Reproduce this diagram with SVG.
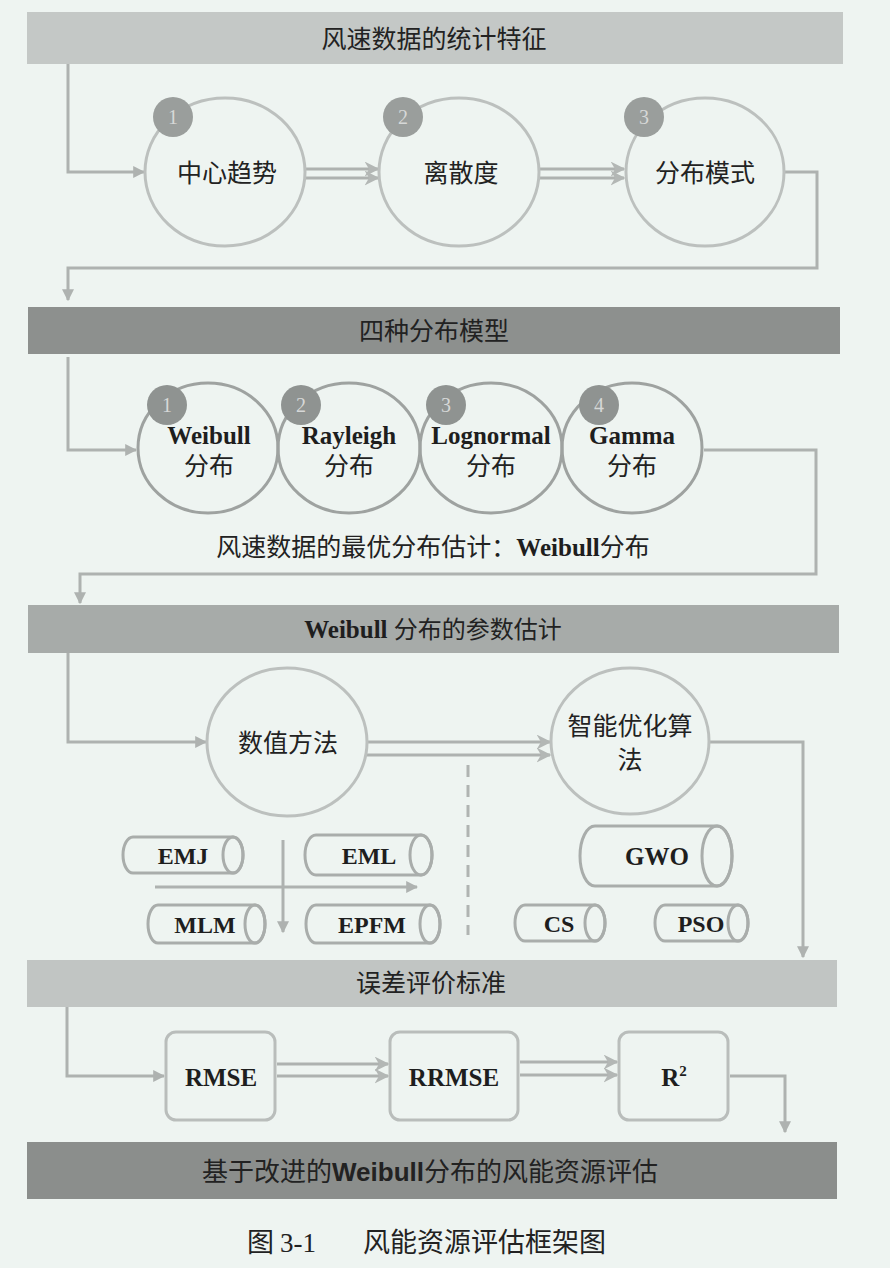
<svg xmlns="http://www.w3.org/2000/svg" width="890" height="1268" viewBox="0 0 890 1268">
<style>
.cn{font-family:"Noto Sans CJK SC","Noto Sans",sans-serif;fill:#222}
.en{font-family:"Liberation Serif",serif;font-weight:bold;fill:#1e1e1e}
.bar{stroke:none}
.ln{fill:none;stroke:#aeb2b0;stroke-width:3}
.c1{fill:none;stroke:#bcc0be;stroke-width:3}
.c2{fill:none;stroke:#9ea2a0;stroke-width:3}
.cy{fill:none;stroke:#a9adab;stroke-width:3}
.bx{fill:none;stroke:#b9bdbb;stroke-width:3}
.bd{fill:#9a9e9c}
.bdt{font-family:"Liberation Serif",serif;font-size:20px;fill:#d6d8d7;text-anchor:middle}
text{text-anchor:middle}
</style>
<defs>
<marker id="ah" viewBox="0 0 10 10" refX="9" refY="5" markerWidth="4" markerHeight="4" orient="auto" markerUnits="strokeWidth">
<path d="M0,0 L10,5 L0,10 Z" fill="#aeb2b0"/>
</marker>
<marker id="ch" viewBox="0 0 10 10" refX="9" refY="5" markerWidth="5" markerHeight="5" orient="auto" markerUnits="strokeWidth">
<path d="M0,0 L10,5 L0,10 L3,5 Z" fill="#b3b7b5"/>
</marker>
</defs>
<rect width="890" height="1268" fill="#eef4f1"/>

<g id="bar1"><rect class="bar" x="27" y="12" width="816" height="52" fill="#c4c8c6"/><text class="cn" x="434" y="48" font-size="25">风速数据的统计特征</text></g>
<g id="bar2"><rect class="bar" x="28" y="307" width="812" height="47" fill="#8d908e"/><text class="cn" x="434" y="340" font-size="25">四种分布模型</text></g>
<g id="bar3"><rect class="bar" x="28" y="605" width="811" height="48" fill="#a7aba9"/><text x="433" y="638" font-size="25"><tspan class="en" font-size="25">Weibull </tspan><tspan class="cn" font-size="24">分布的参数估计</tspan></text></g>
<g id="bar4"><rect class="bar" x="27" y="960" width="810" height="47" fill="#c1c5c3"/><text class="cn" x="431" y="992" font-size="25">误差评价标准</text></g>
<g id="bar5"><rect class="bar" x="27" y="1142" width="810" height="57" fill="#8b8e8c"/><text class="cn" x="430" y="1181" font-size="26">基于改进的<tspan font-family="'Liberation Sans',sans-serif" font-weight="bold">Weibull</tspan>分布的风能资源评估</text></g>

<g id="connectors">
<polyline class="ln" points="68,64 68,172 144,172" marker-end="url(#ah)"/>
<polyline class="ln" points="785,172 817,172 817,268 68,268 68,300" marker-end="url(#ah)"/>
<line class="ln" x1="306" y1="169" x2="378" y2="169" marker-end="url(#ch)"/>
<line class="ln" x1="306" y1="178" x2="378" y2="178" marker-end="url(#ch)"/>
<line class="ln" x1="540" y1="169" x2="624" y2="169" marker-end="url(#ch)"/>
<line class="ln" x1="540" y1="178" x2="624" y2="178" marker-end="url(#ch)"/>
<polyline class="ln" points="68,357 68,450 136,450" marker-end="url(#ah)"/>
<polyline class="ln" points="704,450 816,450 816,574 80,574 80,603" marker-end="url(#ah)"/>
<polyline class="ln" points="68,653 68,742 206,742" marker-end="url(#ah)"/>
<line class="ln" x1="367" y1="742" x2="550" y2="742" marker-end="url(#ch)"/>
<line class="ln" x1="367" y1="755" x2="550" y2="755" marker-end="url(#ch)"/>
<polyline class="ln" points="710,742 803,742 803,957" marker-end="url(#ah)"/>
<line x1="468" y1="765" x2="468" y2="935" stroke="#b0b4b2" stroke-width="3" stroke-dasharray="12,8"/>
<line class="ln" x1="155" y1="887" x2="417" y2="887" marker-end="url(#ah)"/>
<line class="ln" x1="283" y1="840" x2="283" y2="932" marker-end="url(#ah)"/>
<polyline class="ln" points="67,1007 67,1076 164,1076" marker-end="url(#ah)"/>
<line class="ln" x1="277" y1="1064" x2="388" y2="1064" marker-end="url(#ch)"/>
<line class="ln" x1="277" y1="1076" x2="388" y2="1076" marker-end="url(#ch)"/>
<line class="ln" x1="520" y1="1062" x2="617" y2="1062" marker-end="url(#ch)"/>
<line class="ln" x1="520" y1="1075" x2="617" y2="1075" marker-end="url(#ch)"/>
<polyline class="ln" points="730,1076 785,1076 785,1132" marker-end="url(#ah)"/>
</g>

<g id="n-zhongxin"><ellipse class="c1" cx="225" cy="172" rx="80" ry="74"/><circle class="bd" cx="173" cy="117" r="20"/><text class="bdt" x="173" y="124">1</text><text class="cn" x="227" y="182" font-size="25">中心趋势</text></g>
<g id="n-lisan"><ellipse class="c1" cx="459" cy="172" rx="80" ry="74"/><circle class="bd" cx="403" cy="117" r="20"/><text class="bdt" x="403" y="124">2</text><text class="cn" x="461" y="182" font-size="25">离散度</text></g>
<g id="n-fenbu"><ellipse class="c1" cx="705" cy="172" rx="79" ry="74"/><circle class="bd" cx="644" cy="117" r="20"/><text class="bdt" x="644" y="124">3</text><text class="cn" x="705" y="182" font-size="25">分布模式</text></g>

<g id="n-weibull"><ellipse class="c2" cx="208" cy="448" rx="70" ry="65"/><circle cx="167" cy="405" r="20" fill="#8f9391"/><text class="bdt" x="167" y="412">1</text><text class="en" x="209" y="444" font-size="25">Weibull</text><text class="cn" x="209" y="475" font-size="25">分布</text></g>
<g id="n-rayleigh"><ellipse class="c2" cx="349" cy="448" rx="71" ry="65"/><circle cx="301" cy="405" r="20" fill="#8f9391"/><text class="bdt" x="301" y="412">2</text><text class="en" x="349" y="444" font-size="25">Rayleigh</text><text class="cn" x="349" y="475" font-size="25">分布</text></g>
<g id="n-lognormal"><ellipse class="c2" cx="491" cy="448" rx="71" ry="65"/><circle cx="446" cy="405" r="20" fill="#8f9391"/><text class="bdt" x="446" y="412">3</text><text class="en" x="491" y="444" font-size="25">Lognormal</text><text class="cn" x="491" y="475" font-size="25">分布</text></g>
<g id="n-gamma"><ellipse class="c2" cx="632" cy="448" rx="70" ry="65"/><circle cx="599" cy="405" r="20" fill="#8f9391"/><text class="bdt" x="599" y="412">4</text><text class="en" x="632" y="444" font-size="25">Gamma</text><text class="cn" x="632" y="475" font-size="25">分布</text></g>
<g id="t-best"><text class="cn" x="433" y="556" font-size="25">风速数据的最优分布估计：<tspan class="en" font-size="25">Weibull</tspan>分布</text></g>

<g id="n-shuzhi"><ellipse class="c1" cx="287" cy="742" rx="80" ry="74"/><text class="cn" x="288" y="752" font-size="25">数值方法</text></g>
<g id="n-zhineng"><ellipse class="c1" cx="630" cy="741" rx="79" ry="73"/><text class="cn" x="630" y="735" font-size="25">智能优化算</text><text class="cn" x="630" y="769" font-size="25">法</text></g>

<g id="n-emj"><path class="cy" d="M133,837 H233 A10,18 0 0 1 233,873 H133 A10,18 0 0 1 133,837 Z"/><ellipse class="cy" cx="233" cy="855" rx="10" ry="18"/><text class="en" x="183" y="864" font-size="24">EMJ</text></g>
<g id="n-eml"><path class="cy" d="M316,835 H421 A11,20 0 0 1 421,875 H316 A11,20 0 0 1 316,835 Z"/><ellipse class="cy" cx="421" cy="855" rx="11" ry="20"/><text class="en" x="369" y="864" font-size="24">EML</text></g>
<g id="n-mlm"><path class="cy" d="M158,905 H255 A10,19 0 0 1 255,943 H158 A10,19 0 0 1 158,905 Z"/><ellipse class="cy" cx="255" cy="924" rx="10" ry="19"/><text class="en" x="205" y="933" font-size="24">MLM</text></g>
<g id="n-epfm"><path class="cy" d="M316,905 H430 A10,19 0 0 1 430,943 H316 A10,19 0 0 1 316,905 Z"/><ellipse class="cy" cx="430" cy="924" rx="10" ry="19"/><text class="en" x="372" y="933" font-size="24">EPFM</text></g>
<g id="n-gwo"><path class="cy" d="M595,826 H717 A15,30 0 0 1 717,886 H595 A15,30 0 0 1 595,826 Z"/><ellipse class="cy" cx="717" cy="856" rx="15" ry="30"/><text class="en" x="657" y="865" font-size="25">GWO</text></g>
<g id="n-cs"><path class="cy" d="M525,905 H595 A10,18 0 0 1 595,941 H525 A10,18 0 0 1 525,905 Z"/><ellipse class="cy" cx="595" cy="923" rx="10" ry="18"/><text class="en" x="559" y="932" font-size="24">CS</text></g>
<g id="n-pso"><path class="cy" d="M665,905 H738 A10,18 0 0 1 738,941 H665 A10,18 0 0 1 665,905 Z"/><ellipse class="cy" cx="738" cy="923" rx="10" ry="18"/><text class="en" x="701" y="932" font-size="24">PSO</text></g>

<g id="n-rmse"><rect class="bx" x="166" y="1032" width="109" height="88" rx="10"/><text class="en" x="221" y="1086" font-size="25">RMSE</text></g>
<g id="n-rrmse"><rect class="bx" x="390" y="1032" width="128" height="88" rx="10"/><text class="en" x="454" y="1086" font-size="25">RRMSE</text></g>
<g id="n-r2"><rect class="bx" x="619" y="1032" width="109" height="88" rx="10"/><text class="en" x="674" y="1086" font-size="25">R<tspan font-size="15" dy="-10">2</tspan></text></g>

<g id="caption"><text x="247" y="1252" font-size="27" style="text-anchor:start" class="cn">图 <tspan font-family="'Liberation Serif',serif">3-1</tspan></text><text class="cn" x="363" y="1252" font-size="27" style="text-anchor:start">风能资源评估框架图</text></g>
</svg>
